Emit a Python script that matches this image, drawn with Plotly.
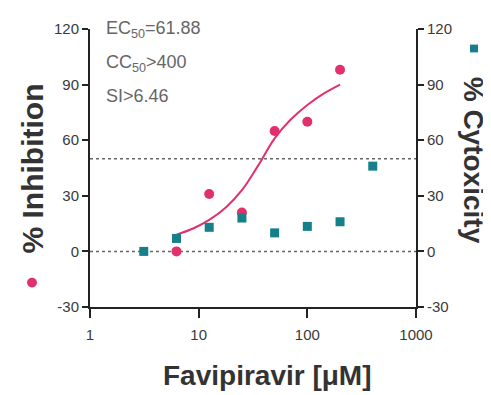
import plotly.graph_objects as go

# Data
conc_inh = [6.25, 12.5, 25, 50, 100, 200]
inhibition = [0, 31, 21, 65, 70, 98]

conc_cyt = [3.125, 6.25, 12.5, 25, 50, 100, 200, 400]
cytotoxicity = [0, 7, 13, 18, 10, 13.5, 16, 46]

fit_x = [6.25, 9, 12.5, 18, 25, 35, 50, 70, 100, 140, 200]
fit_y = [9, 12.5, 17, 24, 33, 46, 61, 71, 79, 85, 90]

ref_lines = [0, 50]
y_ticks = [-30, 0, 30, 60, 90, 120]
y_ticktext = ["-30", "0", "30", "60", "90", "120"]
x_ticks = [1, 10, 100, 1000]

PINK = "#e2306c"
TEAL = "#15808a"
FONT = "Liberation Sans, Arial, sans-serif"

# page body has an 8px margin; place plot area at absolute reference pixels
OFF = 8
W, H = 491 - OFF, 395 - OFF
PL, PR, PT, PB = 90, 416, 22, 307   # plot area in reference pixels
PW, PH = PR - PL, PB - PT


def px(xr):
    return (xr - PL) / PW


def py(yr):
    return (PB - yr) / PH


fig = go.Figure()

for r in ref_lines:
    fig.add_trace(go.Scatter(x=[1, 1000], y=[r, r], mode="lines",
                             line=dict(color="#666", width=1.5, dash="dot"),
                             hoverinfo="skip", showlegend=False))

fig.add_trace(go.Scatter(x=fit_x, y=fit_y, mode="lines",
                         line=dict(color=PINK, width=2, shape="spline", smoothing=1),
                         showlegend=False))
fig.add_trace(go.Scatter(x=conc_inh, y=inhibition, mode="markers",
                         marker=dict(color=PINK, size=10, symbol="circle"),
                         showlegend=False))
fig.add_trace(go.Scatter(x=conc_cyt, y=cytotoxicity, mode="markers", yaxis="y2",
                         marker=dict(color=TEAL, size=9, symbol="square"),
                         showlegend=False))

tickfont = dict(family=FONT, size=15, color="#3a3a3a")
axis_common = dict(showgrid=False, zeroline=False, showline=True,
                   linecolor="#222", linewidth=2, ticks="outside",
                   tickwidth=2, tickcolor="#222", tickfont=tickfont)
fig.update_layout(
    width=W, height=H,
    margin=dict(l=PL - OFF, r=491 - PR, t=PT - OFF, b=395 - PB, pad=0),
    paper_bgcolor="white", plot_bgcolor="white",
    font=dict(family=FONT),
    xaxis=dict(type="log", range=[0, 3], tickvals=x_ticks,
               ticktext=[str(v) for v in x_ticks], ticklen=9,
               ticklabelstandoff=4, **axis_common),
    yaxis=dict(range=[-30, 120], tickvals=y_ticks, ticktext=y_ticktext,
               ticklen=6, **axis_common),
    yaxis2=dict(range=[-30, 120], tickvals=y_ticks, ticktext=y_ticktext,
                ticklen=6, overlaying="y", side="right", **axis_common),
)

# Axis titles as annotations
fig.add_annotation(text="<b>% Inhibition</b>", xref="paper", yref="paper",
                   x=px(32), y=py(165), textangle=-90, showarrow=False,
                   xanchor="center", yanchor="middle",
                   font=dict(family=FONT, size=30, color="#333"))
fig.add_annotation(text="<b>% Cytoxicity</b>", xref="paper", yref="paper",
                   x=px(473), y=py(156), textangle=90, showarrow=False,
                   xanchor="center", yanchor="middle",
                   font=dict(family=FONT, size=28, color="#333"))
fig.add_annotation(text="<b>Favipiravir [μM]</b>", xref="paper", yref="paper",
                   x=px(267), y=py(377), showarrow=False,
                   xanchor="center", yanchor="middle",
                   font=dict(family=FONT, size=28, color="#333"))

# Stats text
stats = ["EC<sub>50</sub>=61.88", "CC<sub>50</sub>>400", "SI>6.46"]
for i, s in enumerate(stats):
    fig.add_annotation(text=s, xref="paper", yref="paper",
                       x=px(104), y=py(23 + 34 * i),
                       xanchor="left", yanchor="middle", showarrow=False,
                       font=dict(family=FONT, size=18, color="#666"))

# Legend symbols next to axis titles
fig.add_shape(type="circle", xref="paper", yref="paper",
              x0=px(27), x1=px(37), y0=py(287), y1=py(277),
              fillcolor=PINK, line=dict(width=0))
fig.add_shape(type="rect", xref="paper", yref="paper",
              x0=px(470), x1=px(478), y0=py(46), y1=py(38),
              fillcolor=TEAL, line=dict(width=0))

fig.write_html("out.html")
